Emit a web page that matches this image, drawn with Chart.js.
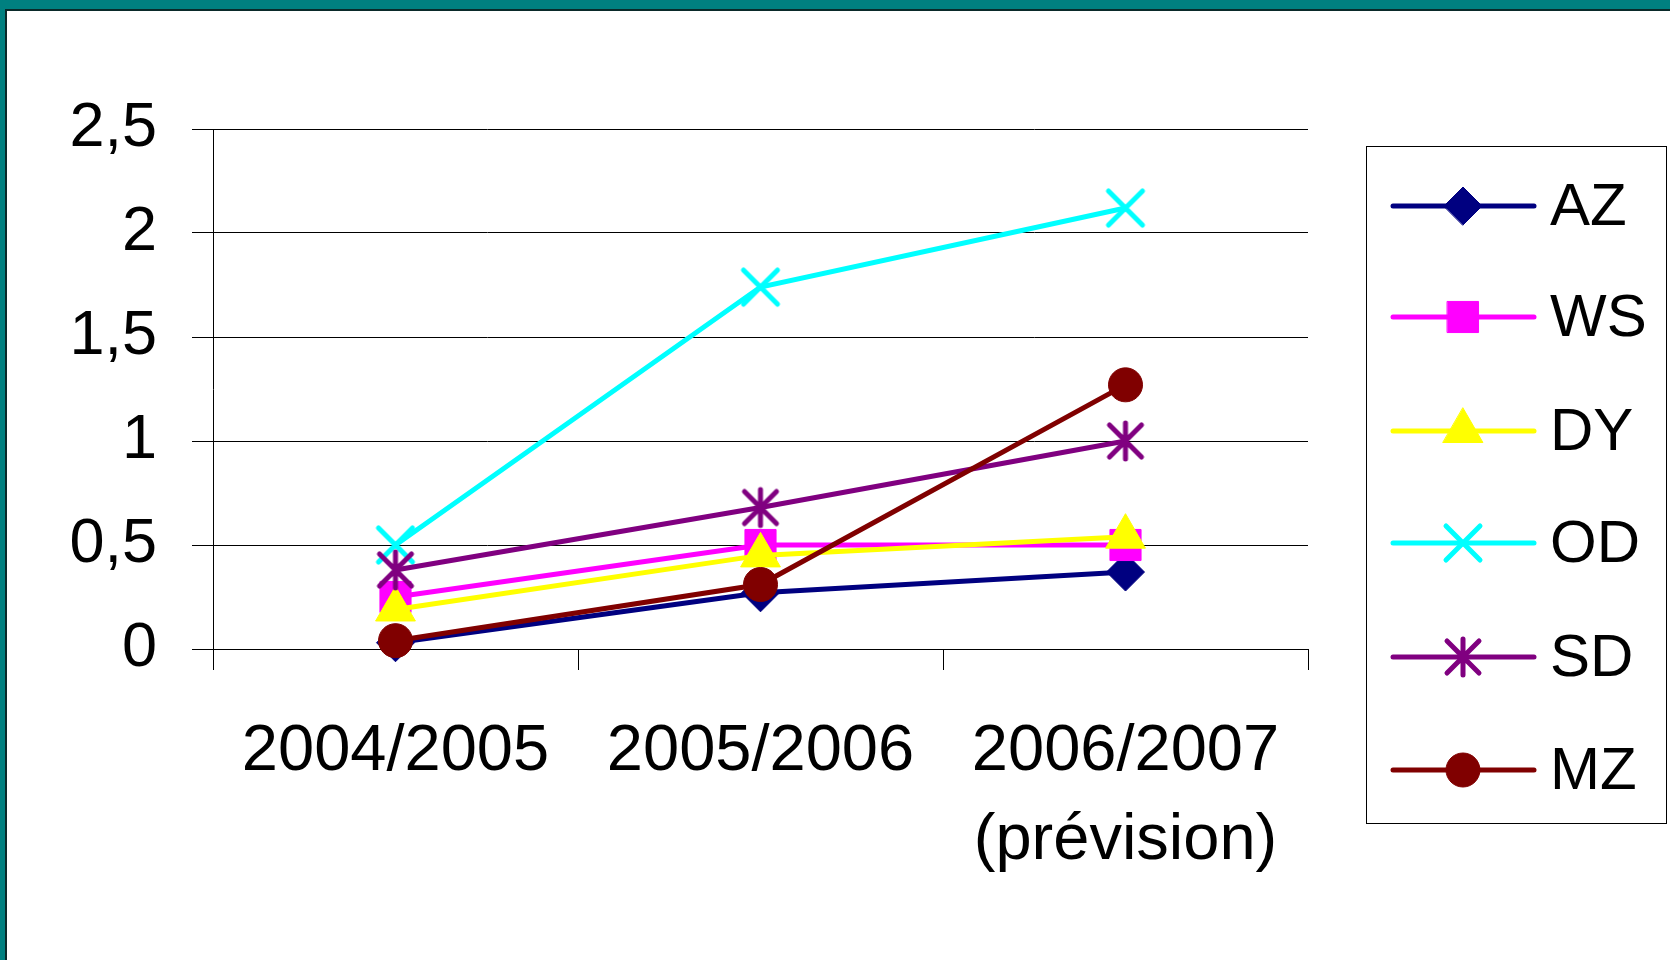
<!DOCTYPE html>
<html>
<head>
<meta charset="utf-8">
<script src="https://cdn.jsdelivr.net/npm/chart.js@4/dist/chart.umd.min.js"></script>
<style>
  html, body { margin: 0; padding: 0; background: #008080; }
  #frame { position: absolute; left: 0; top: 0; width: 1670px; height: 960px; background: #008080; overflow: hidden; }
  #page { position: absolute; left: 5px; top: 9px; right: 0; bottom: 0; background: #fff; border-top: 2px solid #0a2a2a; border-left: 2px solid #0a2a2a; }
  #myChart { position: absolute; left: 0; top: 0; }
</style>
</head>
<body>
<div id="frame"><div id="page"></div></div>
<canvas id="myChart" width="1670" height="960"></canvas>
<script>
// categories on the x axis
const years = [['2004/2005'], ['2005/2006'], ['2006/2007', '(prévision)']];

// series values
const seriesNames = ['AZ', 'WS', 'DY', 'OD', 'SD', 'MZ'];
const AZ = [0.03, 0.27, 0.37];
const WS = [0.25, 0.50, 0.50];
const DY = [0.19, 0.45, 0.54];
const OD = [0.50, 1.74, 2.12];
const SD = [0.38, 0.68, 1.00];
const MZ = [0.04, 0.31, 1.27];

// y axis ticks
const yMin = 0, yMax = 2.5, yStep = 0.5;

const allValues = [AZ, WS, DY, OD, SD, MZ];
const colors = ['#000080', '#ff00ff', '#ffff00', '#00ffff', '#800080', '#800000'];
const radii = [19, 22, 23, 24, 22, 17];

const fontFam = '"Liberation Sans", Arial, sans-serif';

//little canvases for the X and the asterisk markers (round stroke ends like the original)
function strokeMarker(color, segs) {
  const c = document.createElement('canvas');
  c.width = 46; c.height = 46;
  const g = c.getContext('2d');
  g.strokeStyle = color;
  g.lineWidth = 5;
  g.lineCap = 'round';
  g.beginPath();
  segs.forEach(s => { g.moveTo(23 + s[0], 23 + s[1]); g.lineTo(23 + s[2], 23 + s[3]); });
  g.stroke();
  return c;
}
const xMark = strokeMarker('#00ffff', [[-17, -17, 17, 17], [17, -17, -17, 17]]);
const starMark = strokeMarker('#800080', [[0, -18, 0, 18], [-16, -16, 16, 16], [16, -16, -16, 16]]);

const styles = ['rectRot', 'rect', 'triangle', xMark, starMark, 'circle'];

//one dataset per series, later ones drawn on top like in the original
const datasets = seriesNames.map((name, i) => ({
  label: name,
  data: allValues[i],
  borderColor: colors[i],
  backgroundColor: colors[i],
  borderWidth: 5,
  pointStyle: styles[i],
  pointRadius: radii[i],
  pointHoverRadius: radii[i],
  pointBackgroundColor: colors[i],
  pointBorderColor: colors[i],
  pointBorderWidth: 1,
  tension: 0,
  clip: false,
  order: seriesNames.length - i
}));

//legend box drawn by hand: line with the marker in the middle
const legendBox = {
  id: 'legendBox',
  afterDraw: (chart) => {
    const ctx = chart.ctx;
    ctx.save();
    ctx.strokeStyle = '#000';
    ctx.lineWidth = 1;
    ctx.strokeRect(1366.5, 146.5, 300, 677);
    const rows = [206, 317, 431, 543, 657, 770];
    chart.data.datasets.forEach((ds, i) => {
      const y = rows[i];
      ctx.strokeStyle = ds.borderColor;
      ctx.lineWidth = 5;
      ctx.lineCap = 'round';
      ctx.beginPath();
      ctx.moveTo(1393, y);
      ctx.lineTo(1534, y);
      ctx.stroke();
      ctx.fillStyle = ds.pointBackgroundColor;
      ctx.strokeStyle = ds.pointBorderColor;
      ctx.lineWidth = ds.pointBorderWidth;
      Chart.helpers.drawPoint(ctx, {pointStyle: ds.pointStyle, radius: ds.pointRadius, rotation: 0, borderWidth: ds.pointBorderWidth}, 1463, y);
      ctx.fillStyle = '#000';
      ctx.font = '60px ' + fontFam;
      ctx.textAlign = 'left';
      ctx.textBaseline = 'middle';
      ctx.fillText(ds.label, 1550, y + 2);
    });
    ctx.restore();
  }
};

const config = {
  type: 'line',
  data: { labels: years, datasets: datasets },
  plugins: [legendBox],
  options: {
    responsive: false,
    animation: false,
    events: [],
    layout: { padding: { top: 129, right: 362, left: 0, bottom: 0 } },
    plugins: { legend: { display: false }, tooltip: { enabled: false } },
    scales: {
      x: {
        offset: true,
        grid: { offset: true, drawOnChartArea: false, drawTicks: true, tickLength: 21, color: '#000', lineWidth: 1 },
        border: { display: true, color: '#000', width: 1 },
        ticks: {
          color: '#000', maxRotation: 0, autoSkip: false, padding: 38,
          font: { family: fontFam, size: 65, lineHeight: 1.36 }
        },
        afterFit: (scale) => { scale.height = 960 - 649; }
      },
      y: {
        min: yMin, max: yMax,
        grid: { color: '#000', lineWidth: 1, drawTicks: true, tickLength: 21 },
        border: { display: true, color: '#000', width: 1 },
        ticks: {
          stepSize: yStep, color: '#000', padding: 35,
          font: { family: fontFam, size: 63 },
          callback: (v) => String(v).replace('.', ',')
        },
        afterFit: (scale) => { scale.width = 213; }
      }
    }
  }
};

const ctx = document.getElementById('myChart').getContext('2d');
const myChart = new Chart(ctx, config);
</script>
</body>
</html>
